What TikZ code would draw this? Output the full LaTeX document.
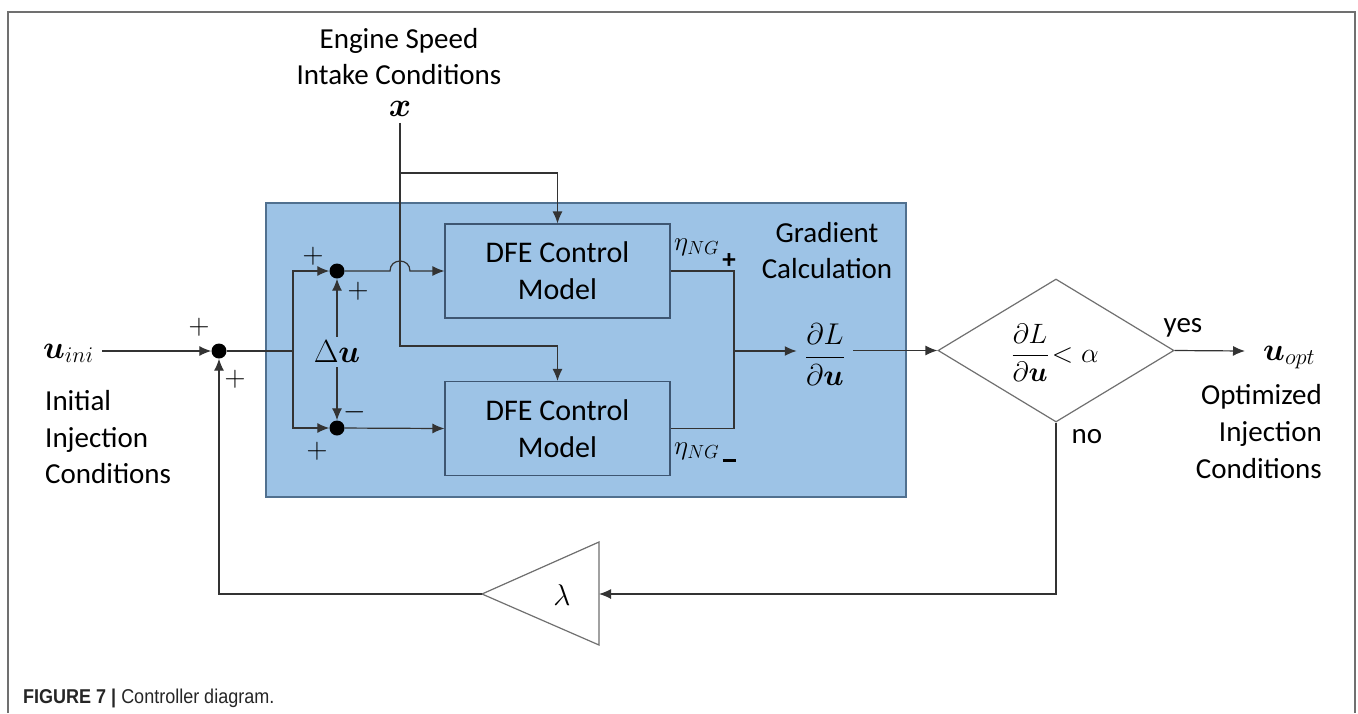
\RequirePackage{fix-cm}
\documentclass[tikz,border=0pt]{standalone}
\usepackage{fontspec}
\setmainfont{Carlito}
\newfontfamily\capfont[FakeStretch=0.9]{Liberation Sans}
\usepackage{amsmath}
\usepackage{bm}
\usetikzlibrary{arrows.meta,shapes.geometric}
\definecolor{boxblue}{HTML}{9DC3E6}
\definecolor{boxedge}{HTML}{50708F}
\definecolor{dfeedge}{HTML}{3E5672}
\definecolor{wirecol}{HTML}{333333}
\definecolor{framegray}{HTML}{707070}
\definecolor{shapegray}{HTML}{707070}
\begin{document}
\begin{tikzpicture}[x=1pt,y=-1pt,
  txt/.style={font=\fontsize{29}{36}\selectfont, inner sep=0pt, text=black},
  mathtxt/.style={font=\fontsize{32}{32}\selectfont, inner sep=0pt},
  dfe/.style={draw=dfeedge, line width=1.1pt, minimum width=225pt, minimum height=94pt,
              align=center, font=\fontsize{30}{37}\selectfont, inner sep=0pt},
  sumdot/.style={circle, fill=black, minimum size=15pt, inner sep=0pt},
  sign/.style={inner sep=0pt, font=\fontsize{29}{29}\selectfont},
  wire/.style={draw=wirecol, line width=1.2pt},
  arr/.style={wire, -{Latex[length=12pt,width=10pt]}},
  gshape/.style={draw=shapegray, line width=1.2pt}
]
\useasboundingbox (0,0) rectangle (1358,713);
\fill[white] (0,0) rectangle (1358,713);

% frame
\draw[framegray, line width=1.8pt] (8,713) -- (8,12) -- (1355,12) -- (1355,713);

% gradient calculation box
\node[fill=boxblue, draw=boxedge, line width=1.2pt, minimum width=640pt, minimum height=294pt, inner sep=0pt] (gbox) at (586,350) {};

% DFE models
\node[dfe] (m1) at (557.5,271) {DFE Control\\Model};
\node[dfe] (m2) at (557.5,428.5) {DFE Control\\Model};

% summing junctions
\node[sumdot] (c0) at (219,351) {};
\node[sumdot] (c1) at (337,271) {};
\node[sumdot] (c2) at (337,428) {};

% texts
\node[txt, anchor=base] (es) at (399,48) {Engine Speed};
\node[txt, anchor=base] (ic) at (399,84) {Intake Conditions};
\node[inner sep=0pt, font=\fontsize{34}{34}\selectfont] (xn) at (400,109) {$\bm{x}$};

\node[mathtxt, anchor=base west] (uini) at (43,358) {$\bm{u}_{ini}$};
\node[txt, anchor=base west] (li1) at (45,410) {Initial};
\node[txt, anchor=base west] (li2) at (45,447) {Injection};
\node[txt, anchor=base west] (li3) at (45,483) {Conditions};

\node[mathtxt, inner sep=4pt] (du) at (337,352) {$\Delta\bm{u}$};

\node[sign] (p1) at (313,256) {$+$};
\node[sign] (p2) at (358,291) {$+$};
\node[sign] (p3) at (199,327) {$+$};
\node[sign] (p4) at (235,379) {$+$};
\node[sign] (mn) at (355,412) {$-$};
\node[sign] (p5) at (317,451) {$+$};

\node[anchor=west, inner sep=0pt, font=\fontsize{27}{27}\selectfont] (etap) at (674,247) {$\eta_{NG}$};
\node[anchor=west, inner sep=0pt, font=\fontsize{27}{27}\selectfont] (etam) at (674,451) {$\eta_{NG}$};
\node[inner sep=0pt, font=\fontsize{27}{27}\selectfont\bfseries] (etaps) at (729,261) {+};
\node[inner sep=0pt] (etams) at (729,460) {\rule{13pt}{3pt}};

\node[txt, anchor=base] (gr1) at (827,242) {Gradient};
\node[txt, anchor=base] (gr2) at (827,278) {Calculation};
\node[font=\fontsize{30}{30}\selectfont, inner sep=8pt] (grad) at (825,355) {$\dfrac{\partial L}{\partial \bm{u}}$};

% decision
\node[diamond, gshape, aspect=1.65, minimum width=236pt, minimum height=143pt, inner sep=0pt] (dia) at (1056,350.5) {};
\node[font=\fontsize{28}{28}\selectfont, inner sep=0pt] (cond) at (1055,353) {$\dfrac{\partial L}{\partial \bm{u}}\!<\alpha$};
\node[txt, anchor=base] (yes) at (1183,332) {yes};
\node[txt, anchor=base] (no) at (1087,443) {no};

\node[mathtxt, anchor=base west] (uopt) at (1263,360) {$\bm{u}_{opt}$};
\node[txt, anchor=base east] (ro1) at (1322,404) {Optimized};
\node[txt, anchor=base east] (ro2) at (1322,441) {Injection};
\node[txt, anchor=base east] (ro3) at (1322,478) {Conditions};

% gain triangle
\coordinate (tritip) at (482,594);
\coordinate (triback) at (599,594);
\draw[gshape, line join=miter] (tritip) -- (599,542) -- (599,645) -- cycle;
\node[font=\fontsize{30}{30}\selectfont, inner sep=0pt] (lam) at (562,595) {$\lambda$};

% caption
\node[anchor=base west, inner sep=0pt, font=\capfont\fontsize{20}{20}\selectfont, text=black!85] (cap) at (23,703) {\textbf{FIGURE 7 |} Controller diagram.};

% coordinates
\coordinate (uinis) at (102,351);
\coordinate (j0) at (293,351);
\coordinate (xa) at (400,173);
\coordinate (xb) at (400,346);
\coordinate (jl) at (390,271);
\coordinate (jr) at (410,271);
\coordinate (oj) at (734,351);
\coordinate (uopte) at (1245,351);

% connectors
\draw[arr] (uinis) -- (c0);
\draw[wire, line width=2pt] (c0) -- (j0);
\draw[arr] (j0) |- (c1);
\draw[arr] (j0) |- (c2);
\draw[arr] (du) -- (c1);
\draw[arr] (du) -- (c2);
\draw[arr] (c1) -- (jl) .. controls (390,257.7) and (410,257.7) .. (jr) -- (m1.west);
\draw[arr] (c2) -- (m2.west);
\draw[arr, shorten <=6pt] (xn.south) -- (xb) -| (m2.north);
\draw[arr] (xa) -| (m1.north);
\draw[wire] (m1.east) -| (oj);
\draw[wire] (m2.east) -| (oj);
\draw[arr, line width=1.8pt] (oj) -- (oj -| grad.west);
\draw[arr] (grad.east |- dia.west) -- (dia.west);
\draw[arr] (dia.east) -- (uopte);
\draw[arr] (dia.south) |- (triback);
\draw[arr] (tritip) -| (c0);
\end{tikzpicture}
\end{document}
